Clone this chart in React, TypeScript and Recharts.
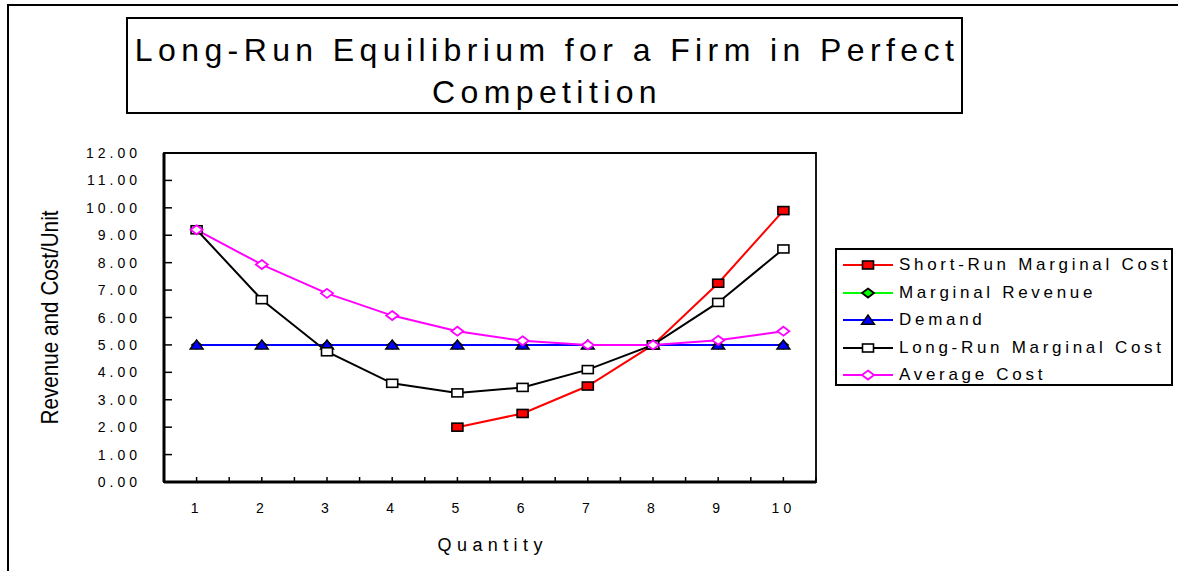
import React from 'react';
import { LineChart, Line, XAxis, YAxis, Legend, ReferenceArea, Label } from 'recharts';

// ---- data ----
const quantities = [1, 2, 3, 4, 5, 6, 7, 8, 9, 10];
const shortRunMarginalCost = [null, null, null, null, 2.0, 2.5, 3.5, 5.0, 7.25, 9.9];
const marginalRevenue = [5, 5, 5, 5, 5, 5, 5, 5, 5, 5];
const demand = [5, 5, 5, 5, 5, 5, 5, 5, 5, 5];
const longRunMarginalCost = [9.2, 6.65, 4.75, 3.6, 3.25, 3.45, 4.1, 5.0, 6.55, 8.5];
const averageCost = [9.2, 7.93, 6.88, 6.07, 5.5, 5.15, 5.0, 5.0, 5.17, 5.5];
const yTicks = [0, 1, 2, 3, 4, 5, 6, 7, 8, 9, 10, 11, 12];
const xTicks = [1, 1.5, 2, 2.5, 3, 3.5, 4, 4.5, 5, 5.5, 6, 6.5, 7, 7.5, 8, 8.5, 9, 9.5, 10, 10.5];

const titleLine1 = 'Long-Run Equilibrium for a Firm in Perfect';
const titleLine2 = 'Competition';
const xTitle = 'Quantity';
const yTitle = 'Revenue and Cost/Unit';

const data = quantities.map((q, i) => ({
  q,
  srmc: shortRunMarginalCost[i],
  mr: marginalRevenue[i],
  demand: demand[i],
  lrmc: longRunMarginalCost[i],
  ac: averageCost[i],
}));

type Kind = 'square' | 'diamond' | 'triangle' | 'smallDiamond';
const series: { key: string; name: string; color: string; kind: Kind; fill: string; stroke: string }[] = [
  { key: 'srmc', name: 'Short-Run Marginal Cost', color: '#FF0000', kind: 'square', fill: '#FF0000', stroke: '#000000' },
  { key: 'mr', name: 'Marginal Revenue', color: '#00FF00', kind: 'smallDiamond', fill: '#00FF00', stroke: '#000000' },
  { key: 'demand', name: 'Demand', color: '#0000FF', kind: 'triangle', fill: '#0000FF', stroke: '#000000' },
  { key: 'lrmc', name: 'Long-Run Marginal Cost', color: '#000000', kind: 'square', fill: '#FFFFFF', stroke: '#000000' },
  { key: 'ac', name: 'Average Cost', color: '#FF00FF', kind: 'diamond', fill: '#FFFFFF', stroke: '#FF00FF' },
];

const FONT = '"Liberation Sans", Arial, Helvetica, sans-serif';

function Marker({ kind, cx, cy, fill, stroke }: { kind: Kind; cx: number; cy: number; fill: string; stroke: string }) {
  if (kind === 'square') {
    return <rect x={cx - 5.5} y={cy - 4} width={11} height={8} fill={fill} stroke={stroke} strokeWidth={1.6} />;
  }
  if (kind === 'diamond') {
    return (
      <polygon
        points={`${cx},${cy - 4.5} ${cx + 6},${cy} ${cx},${cy + 4.5} ${cx - 6},${cy}`}
        fill={fill}
        stroke={stroke}
        strokeWidth={1.8}
      />
    );
  }
  if (kind === 'smallDiamond') {
    return (
      <polygon
        points={`${cx},${cy - 4} ${cx + 5},${cy} ${cx},${cy + 4} ${cx - 5},${cy}`}
        fill={fill}
        stroke={stroke}
        strokeWidth={1.2}
      />
    );
  }
  return (
    <polygon
      points={`${cx},${cy - 5} ${cx + 6.5},${cy + 4.2} ${cx - 6.5},${cy + 4.2}`}
      fill={fill}
      stroke={stroke}
      strokeWidth={1.4}
    />
  );
}

const Y_TICK_MARGIN = 23;
const X_TICK_MARGIN = 20;

const YTick = (props: any) => {
  const { x, y, payload } = props;
  const axisX = x + Y_TICK_MARGIN;
  return (
    <g>
      <line x1={axisX} x2={axisX + 8} y1={y} y2={y} stroke="#000" strokeWidth={1.5} />
      <text
        x={x}
        y={y}
        dy={5}
        textAnchor="end"
        fontFamily={FONT}
        fontSize={14}
        letterSpacing={4}
        fill="#000"
      >
        {Number(payload.value).toFixed(2)}
      </text>
    </g>
  );
};

const XTick = (props: any) => {
  const { x, y, payload } = props;
  const axisY = y - X_TICK_MARGIN;
  const isInt = Number.isInteger(payload.value);
  return (
    <g>
      <line x1={x} x2={x} y1={axisY} y2={axisY - 5} stroke="#000" strokeWidth={1.5} />
      {isInt && (
        <text
          x={x}
          y={axisY + 31}
          textAnchor="middle"
          fontFamily={FONT}
          fontSize={14}
          letterSpacing={4}
          fill="#000"
        >
          {payload.value}
        </text>
      )}
    </g>
  );
};

const LegendContent = () => (
  <div
    style={{
      boxSizing: 'border-box',
      width: 338,
      height: 138,
      border: '2px solid #000',
      background: '#fff',
      paddingTop: 1.5,
      fontFamily: FONT,
    }}
  >
    {series.map((s) => (
      <div key={s.key} style={{ height: 27.5, display: 'flex', alignItems: 'center' }}>
        <svg width={60} height={16} style={{ marginLeft: 6, flex: 'none' }}>
          <line x1={0} x2={50} y1={8} y2={8} stroke={s.color} strokeWidth={2} />
          <Marker kind={s.kind === 'smallDiamond' ? 'diamond' : s.kind} cx={25} cy={8} fill={s.fill} stroke={s.kind === 'smallDiamond' ? '#000' : s.stroke} />
        </svg>
        <span style={{ fontSize: 17, letterSpacing: 3.7, color: '#000', whiteSpace: 'nowrap', marginLeft: -4 }}>
          {s.name}
        </span>
      </div>
    ))}
  </div>
);

export default function App() {
  return (
    <div
      style={{
        position: 'absolute',
        left: 0,
        top: 0,
        width: 1178,
        height: 571,
        overflow: 'hidden',
        background: '#fff',
        fontFamily: FONT,
      }}
    >
      <div
        style={{
          position: 'absolute',
          left: 7,
          top: 4,
          width: 2000,
          height: 2000,
          border: '2px solid #000',
        }}
      />
      <div
        style={{
          position: 'absolute',
          left: 126,
          top: 17,
          width: 837,
          height: 97,
          boxSizing: 'border-box',
          border: '2px solid #000',
          paddingTop: 10,
          paddingLeft: 5,
          textAlign: 'center',
          fontSize: 32,
          lineHeight: '42px',
          letterSpacing: 5.4,
          color: '#000',
          whiteSpace: 'nowrap',
        }}
      >
        {titleLine1}
        <br />
        {titleLine2}
      </div>
      <div style={{ position: 'absolute', left: 0, top: 0 }}>
        <LineChart
          width={1178}
          height={571}
          data={data}
          margin={{ top: 153, right: 362, bottom: 9, left: 20 }}
        >
          <ReferenceArea x1={0.5} x2={10.5} y1={0} y2={12} fill="none" stroke="#000" strokeWidth={1.8} ifOverflow="visible" />
          <XAxis
            type="number"
            dataKey="q"
            domain={[0.5, 10.5]}
            ticks={xTicks}
            interval={0}
            allowDecimals
            height={80}
            tickSize={0}
            tickMargin={X_TICK_MARGIN}
            tickLine={false}
            axisLine={{ stroke: '#000', strokeWidth: 3 }}
            tick={<XTick />}
          >
            <Label
              content={(p: any) => {
                const vb = p.viewBox || {};
                return (
                  <text
                    x={vb.x + vb.width / 2 + 2.7}
                    y={vb.y + 69}
                    textAnchor="middle"
                    fontFamily={FONT}
                    fontSize={18}
                    letterSpacing={5.4}
                    fill="#000"
                  >
                    {xTitle}
                  </text>
                );
              }}
            />
          </XAxis>
          <YAxis
            type="number"
            domain={[0, 12]}
            ticks={yTicks}
            interval={0}
            width={144}
            tickSize={0}
            tickMargin={Y_TICK_MARGIN}
            tickLine={false}
            axisLine={{ stroke: '#000', strokeWidth: 3 }}
            tick={<YTick />}
          >
            <Label
              content={(p: any) => {
                const vb = p.viewBox || {};
                const cx = vb.x + 37.5;
                const cy = vb.y + vb.height / 2;
                return (
                  <text
                    transform={`translate(${cx},${cy}) rotate(-90) scale(0.9,1)`}
                    x={0}
                    y={0}
                    textAnchor="middle"
                    fontFamily={FONT}
                    fontSize={23}
                    fill="#000"
                  >
                    {yTitle}
                  </text>
                );
              }}
            />
          </YAxis>
          <Legend
            layout="horizontal"
            align="center"
            verticalAlign="middle"
            content={<LegendContent />}
            wrapperStyle={{ left: 835, top: 248, width: 338, height: 138 }}
          />
          {series.map((s) => (
            <Line
              key={s.key}
              type="linear"
              dataKey={s.key}
              name={s.name}
              stroke={s.color}
              strokeWidth={2}
              isAnimationActive={false}
              connectNulls={false}
              activeDot={false}
              dot={(p: any) => (
                <g key={`${s.key}-${p.index}`}>
                  {p.cx != null && p.cy != null && p.value != null && (
                    <Marker kind={s.kind} cx={p.cx} cy={p.cy} fill={s.fill} stroke={s.stroke} />
                  )}
                </g>
              )}
            />
          ))}
        </LineChart>
      </div>
    </div>
  );
}
